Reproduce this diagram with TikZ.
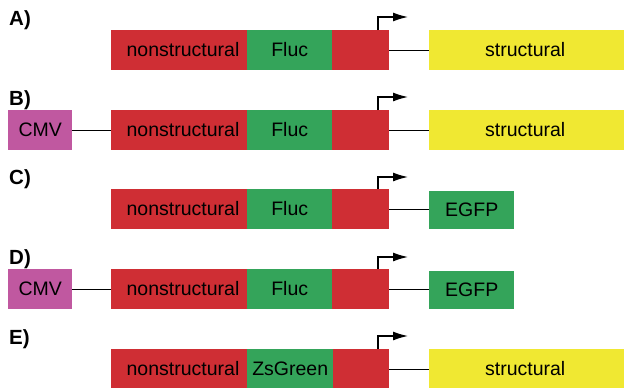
\documentclass[tikz,border=0pt]{standalone}
\usepackage{fontspec}
\setmainfont{Liberation Sans}
\usetikzlibrary{arrows.meta}
\definecolor{cred}{RGB}{207,46,52}
\definecolor{cgreen}{RGB}{52,164,90}
\definecolor{cyellow}{RGB}{240,232,50}
\definecolor{cmag}{RGB}{192,88,160}
\tikzset{
  seg/.style={anchor=west, inner sep=0pt, minimum height=40pt, draw=none, font=\fontsize{19.5}{22}\selectfont},
  txt/.style={inner sep=0pt, font=\fontsize{19.5}{22}\selectfont},
  lab/.style={anchor=base west, inner sep=0pt, font=\fontsize{20.5}{23}\selectfont\bfseries},
  link/.style={draw=black, line width=1pt},
  prom/.style={draw=black, line width=1.3pt, -{Latex[length=15pt,width=9pt]}},
}
\begin{document}
\begin{tikzpicture}[x=1pt,y=-1pt]
\useasboundingbox (0,0) rectangle (624,388);
% ---------- A ----------
\node[lab] (labA) at (9,25.5) {A)};
\node[seg, fill=cred, minimum width=136pt] (nsA) at (111,50) {};
\node[txt] (nstA) at (183,50) {nonstructural};
\node[seg, fill=cgreen, minimum width=85pt] (gA) at (247,50) {Fluc};
\node[seg, fill=cred, minimum width=57pt] (rA) at (332,50) {};
\node[seg, fill=cyellow, minimum width=196pt] (yA) at (429,50) {\hspace*{-4pt}structural};
\draw[link] (rA.east) -- (yA.west);
\coordinate (pA) at (378,30);
\coordinate (tA) at (408,17);
\draw[prom] (pA) |- (tA);
% ---------- B ----------
\node[lab] (labB) at (9,105.5) {B)};
\node[seg, fill=cmag, minimum width=64pt] (cB) at (8,130) {CMV};
\node[seg, fill=cred, minimum width=136pt] (nsB) at (111,130) {};
\node[txt] (nstB) at (183,130) {nonstructural};
\node[seg, fill=cgreen, minimum width=85pt] (gB) at (247,130) {Fluc};
\node[seg, fill=cred, minimum width=57pt] (rB) at (332,130) {};
\node[seg, fill=cyellow, minimum width=196pt] (yB) at (429,130) {\hspace*{-4pt}structural};
\draw[link] (cB.east) -- (nsB.west);
\draw[link] (rB.east) -- (yB.west);
\coordinate (pB) at (378,110);
\coordinate (tB) at (408,97);
\draw[prom] (pB) |- (tB);
% ---------- C ----------
\node[lab] (labC) at (9,184.5) {C)};
\node[seg, fill=cred, minimum width=136pt] (nsC) at (111,209) {};
\node[txt] (nstC) at (183,209) {nonstructural};
\node[seg, fill=cgreen, minimum width=85pt] (gC) at (247,209) {Fluc};
\node[seg, fill=cred, minimum width=57pt] (rC) at (332,209) {};
\node[seg, fill=cgreen, minimum width=85pt, minimum height=38pt] (eC) at (429,209.5) {EGFP};
\draw[link] (rC.east) -- (rC.east -| eC.west);
\coordinate (pC) at (378,189);
\coordinate (tC) at (408,177);
\draw[prom] (pC) |- (tC);
% ---------- D ----------
\node[lab] (labD) at (9,264.5) {D)};
\node[seg, fill=cmag, minimum width=64pt] (cD) at (8,289) {CMV};
\node[seg, fill=cred, minimum width=136pt] (nsD) at (111,289) {};
\node[txt] (nstD) at (183,289) {nonstructural};
\node[seg, fill=cgreen, minimum width=85pt] (gD) at (247,289) {Fluc};
\node[seg, fill=cred, minimum width=57pt] (rD) at (332,289) {};
\node[seg, fill=cgreen, minimum width=85pt, minimum height=38pt] (eD) at (429,290) {EGFP};
\draw[link] (cD.east) -- (nsD.west);
\draw[link] (rD.east) -- (rD.east -| eD.west);
\coordinate (pD) at (378,269);
\coordinate (tD) at (408,257);
\draw[prom] (pD) |- (tD);
% ---------- E ----------
\node[lab] (labE) at (9,344.5) {E)};
\node[seg, fill=cred, minimum width=136pt] (nsE) at (111,369) {};
\node[txt] (nstE) at (183,369) {nonstructural};
\node[seg, fill=cgreen, minimum width=86pt] (gE) at (247,369) {ZsGreen};
\node[seg, fill=cred, minimum width=56pt] (rE) at (333,369) {};
\node[seg, fill=cyellow, minimum width=196pt] (yE) at (429,369) {\hspace*{-4pt}structural};
\draw[link] (rE.east) -- (yE.west);
\coordinate (pE) at (378,349);
\coordinate (tE) at (408,336);
\draw[prom] (pE) |- (tE);
\end{tikzpicture}
\end{document}
